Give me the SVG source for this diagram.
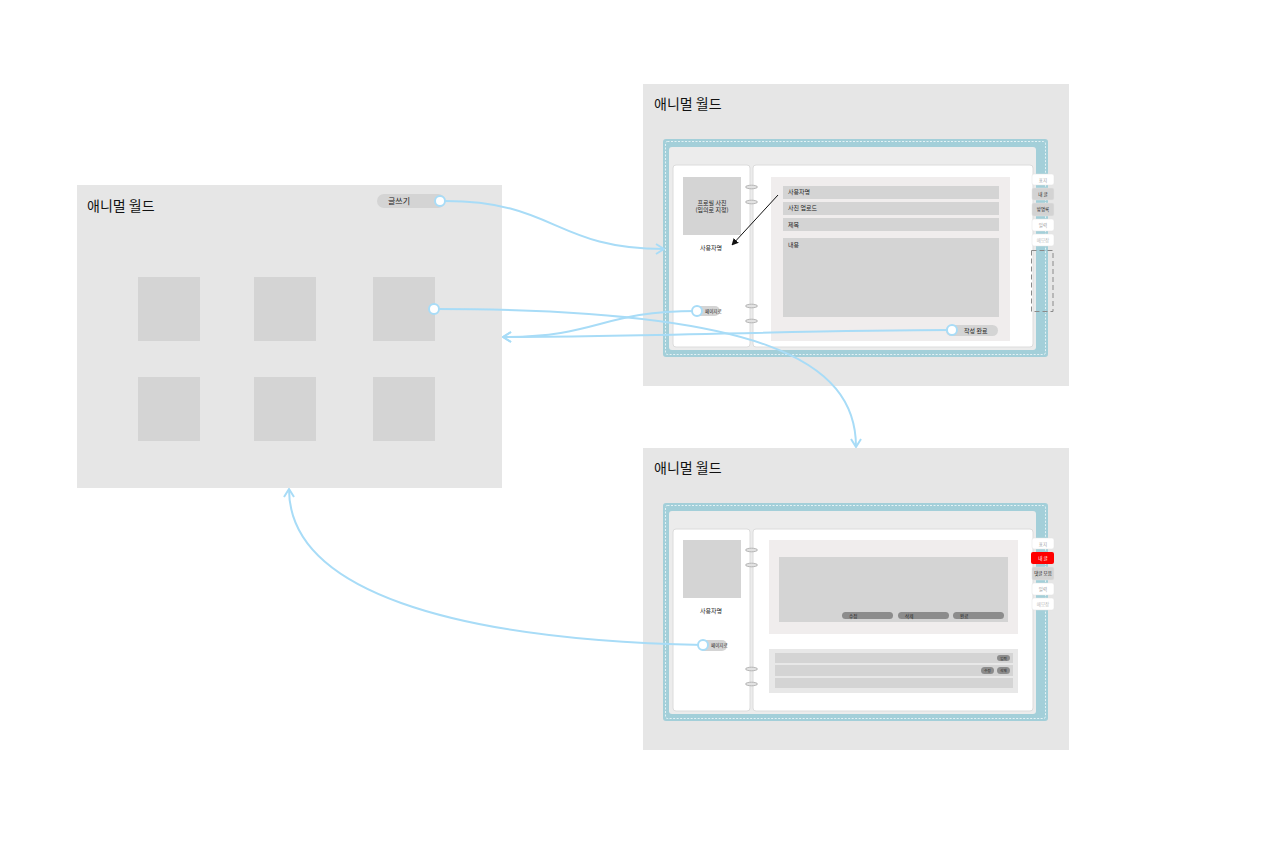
<svg xmlns="http://www.w3.org/2000/svg" width="1280" height="860" viewBox="0 0 1280 860">
<defs>
<style>
text{font-family:"Noto Sans CJK KR","Noto Sans",sans-serif;fill:#222}
.panel{fill:#e6e6e6}
.title{font-size:14px;fill:#111}
.box{fill:#d4d4d4}
.frame{fill:#a3cfd9}
.dash{fill:none;stroke:#f4fbfc;stroke-width:0.8;stroke-dasharray:2 1.5}
.inner{fill:#ececec}
.page{fill:#fff;stroke:#dcdcdc;stroke-width:1}
.ring{fill:#e2e2e2;stroke:#a9a9a9;stroke-width:0.8}
.form{fill:#f0eded}
.s{font-size:6px}
.xs{font-size:4.5px}
.tab{stroke:#e0e0e0;stroke-width:0.5}
.pill{fill:#d4d4d4}
.dk{fill:#8c8c8c}
.con{fill:none;stroke:#a8dcf7;stroke-width:2}
.dot{fill:#fff;stroke:#a8dcf7;stroke-width:2}
</style>
<marker id="ah" viewBox="0 0 10 12" refX="9" refY="6" markerWidth="10" markerHeight="12" markerUnits="userSpaceOnUse" orient="auto">
<path d="M1,1 L9,6 L1,11" fill="none" stroke="#a8dcf7" stroke-width="2"/>
</marker>
<marker id="bk" viewBox="0 0 10 10" refX="9" refY="5" markerWidth="7" markerHeight="7" markerUnits="userSpaceOnUse" orient="auto">
<path d="M0,0 L10,5 L0,10 z" fill="#111"/>
</marker>
</defs>
<rect width="1280" height="860" fill="#fff"/>

<g id="main-page">
<rect class="panel" x="77" y="185" width="425" height="303"/>
<text class="title" x="87" y="211">애니멀 월드</text>
<rect class="pill" x="377" y="194" width="68" height="14" rx="7"/>
<text class="s" x="388" y="204" style="font-size:8px">글쓰기</text>
<rect class="box" x="138" y="277" width="62" height="64"/>
<rect class="box" x="254" y="277" width="62" height="64"/>
<rect class="box" x="373" y="277" width="62" height="64"/>
<rect class="box" x="138" y="377" width="62" height="64"/>
<rect class="box" x="254" y="377" width="62" height="64"/>
<rect class="box" x="373" y="377" width="62" height="64"/>
</g>

<g id="write-page">
<rect class="panel" x="643" y="84" width="426" height="302"/>
<text class="title" x="654" y="109">애니멀 월드</text>
<rect class="frame" x="663" y="139" width="385" height="218" rx="3"/>
<rect class="dash" x="665.5" y="141.5" width="380" height="213" rx="2"/>
<rect class="inner" x="669" y="147" width="367" height="203" rx="3"/>
<rect class="page" x="673" y="165" width="77" height="182" rx="3"/>
<rect class="page" x="753" y="165" width="280" height="182" rx="3"/>
<ellipse class="ring" cx="751.5" cy="187" rx="6" ry="1.8"/>
<ellipse class="ring" cx="751.5" cy="202" rx="6" ry="1.8"/>
<ellipse class="ring" cx="751.5" cy="306" rx="6" ry="1.8"/>
<ellipse class="ring" cx="751.5" cy="321" rx="6" ry="1.8"/>
<rect class="box" x="683" y="177" width="58" height="58"/>
<text class="s" x="712" y="205" text-anchor="middle">프로필 사진</text>
<text class="s" x="712" y="212" text-anchor="middle">(임의로 지정)</text>
<text class="s" x="711" y="250" text-anchor="middle">사용자명</text>
<rect class="pill" x="692" y="306" width="28" height="10" rx="5"/>
<text class="xs" x="705" y="312.5">페이지로</text>
<rect class="form" x="771" y="177" width="239" height="164"/>
<rect class="box" x="783" y="186" width="216" height="13"/>
<text class="s" x="788" y="194">사용자명</text>
<rect class="box" x="783" y="202" width="216" height="13"/>
<text class="s" x="788" y="210">사진 업로드</text>
<rect class="box" x="783" y="218" width="216" height="13"/>
<text class="s" x="788" y="227">제목</text>
<rect class="box" x="783" y="238" width="216" height="79"/>
<text class="s" x="788" y="247">내용</text>
<rect class="pill" x="946" y="325" width="52" height="11" rx="5.5"/>
<text class="s" x="964" y="333">작성 완료</text>
<line x1="778" y1="195" x2="732" y2="245" stroke="#111" stroke-width="1" marker-end="url(#bk)"/>
<rect class="tab" x="1032" y="174" width="22" height="11" rx="2" fill="#fff"/>
<text class="xs" x="1043" y="181.5" text-anchor="middle" style="fill:#999">표지</text>
<rect class="tab" x="1032" y="188" width="22" height="12" rx="2" fill="#d3d3d3"/>
<text class="xs" x="1043" y="195.5" text-anchor="middle">내 글</text>
<rect class="tab" x="1032" y="203" width="22" height="13" rx="2" fill="#d3d3d3"/>
<text class="xs" x="1043" y="211" text-anchor="middle">방명록</text>
<rect class="tab" x="1032" y="219" width="22" height="12" rx="2" fill="#fff"/>
<text class="xs" x="1043" y="226.5" text-anchor="middle" style="fill:#999">일력</text>
<rect class="tab" x="1032" y="234" width="22" height="12" rx="2" fill="#fff"/>
<text class="xs" x="1043" y="241.5" text-anchor="middle" style="fill:#bbb">메모장</text>
<rect x="1031.5" y="250.5" width="21.5" height="61" fill="none" stroke="#8a8a8a" stroke-width="1" stroke-dasharray="5 3"/>
</g>

<g id="post-page">
<rect class="panel" x="643" y="448" width="426" height="302"/>
<text class="title" x="654" y="473">애니멀 월드</text>
<rect class="frame" x="663" y="503" width="385" height="218" rx="3"/>
<rect class="dash" x="665.5" y="505.5" width="380" height="213" rx="2"/>
<rect class="inner" x="669" y="511" width="367" height="203" rx="3"/>
<rect class="page" x="673" y="529" width="77" height="182" rx="3"/>
<rect class="page" x="753" y="529" width="280" height="182" rx="3"/>
<ellipse class="ring" cx="751.5" cy="550" rx="6" ry="1.8"/>
<ellipse class="ring" cx="751.5" cy="565" rx="6" ry="1.8"/>
<ellipse class="ring" cx="751.5" cy="669" rx="6" ry="1.8"/>
<ellipse class="ring" cx="751.5" cy="684" rx="6" ry="1.8"/>
<rect class="box" x="683" y="540" width="58" height="58"/>
<text class="s" x="711" y="613" text-anchor="middle">사용자명</text>
<rect class="pill" x="699" y="640" width="28" height="11" rx="5"/>
<text class="xs" x="711" y="647">페이지로</text>
<rect class="form" x="769" y="540" width="249" height="94"/>
<rect class="box" x="779" y="557" width="229" height="65"/>
<rect class="dk" x="842" y="612" width="51" height="7" rx="3.5"/>
<text class="xs" x="849" y="617.5">수정</text>
<rect class="dk" x="898" y="612" width="51" height="7" rx="3.5"/>
<text class="xs" x="905" y="617.5">삭제</text>
<rect class="dk" x="953" y="612" width="51" height="7" rx="3.5"/>
<text class="xs" x="960" y="617.5">완료</text>
<rect x="769" y="649" width="249" height="44" fill="#e8e8e8"/>
<rect class="box" x="775" y="653" width="238" height="10"/>
<rect class="box" x="775" y="665" width="238" height="11"/>
<rect class="box" x="775" y="678" width="238" height="10"/>
<rect class="dk" x="997" y="655" width="13" height="6" rx="3"/>
<text class="xs" x="1003.5" y="659.7" text-anchor="middle" style="font-size:3.5px">입력</text>
<rect class="dk" x="981" y="667" width="13" height="7" rx="3.5"/>
<text class="xs" x="987.5" y="671.8" text-anchor="middle" style="font-size:3.5px">수정</text>
<rect class="dk" x="997" y="667" width="13" height="7" rx="3.5"/>
<text class="xs" x="1003.5" y="671.8" text-anchor="middle" style="font-size:3.5px">삭제</text>
<rect class="tab" x="1032" y="538" width="22" height="11" rx="2" fill="#fff"/>
<text class="xs" x="1043" y="545.5" text-anchor="middle" style="fill:#999">표지</text>
<rect x="1031" y="552" width="23" height="12" rx="2" fill="#ff0000"/>
<text class="xs" x="1043" y="559.5" text-anchor="middle" style="fill:#fff">내 글</text>
<rect class="tab" x="1032" y="567" width="22" height="13" rx="2" fill="#d3d3d3"/>
<text class="xs" x="1043" y="575" text-anchor="middle">댓글 모음</text>
<rect class="tab" x="1032" y="583" width="22" height="12" rx="2" fill="#fff"/>
<text class="xs" x="1043" y="590.5" text-anchor="middle" style="fill:#999">일력</text>
<rect class="tab" x="1032" y="598" width="22" height="12" rx="2" fill="#fff"/>
<text class="xs" x="1043" y="605.5" text-anchor="middle" style="fill:#bbb">메모장</text>
</g>

<g id="connectors">
<path class="con" d="M445,201 C555,201 555,249 664,249" marker-end="url(#ah)"/>
<path class="con" d="M434,309 C760,309 856,360 856,447" marker-end="url(#ah)"/>
<path class="con" d="M697,311 C600,311 600,337 503,337" marker-end="url(#ah)"/>
<path class="con" d="M952,330 C800,330 650,337 503,337" marker-end="url(#ah)"/>
<path class="con" d="M703,645 C450,640 289,590 289,489" marker-end="url(#ah)"/>
<circle class="dot" cx="440" cy="201" r="5"/>
<circle class="dot" cx="434" cy="309" r="5"/>
<circle class="dot" cx="697" cy="311" r="5"/>
<circle class="dot" cx="952" cy="330" r="5"/>
<circle class="dot" cx="703" cy="645" r="5"/>
</g>
</svg>
